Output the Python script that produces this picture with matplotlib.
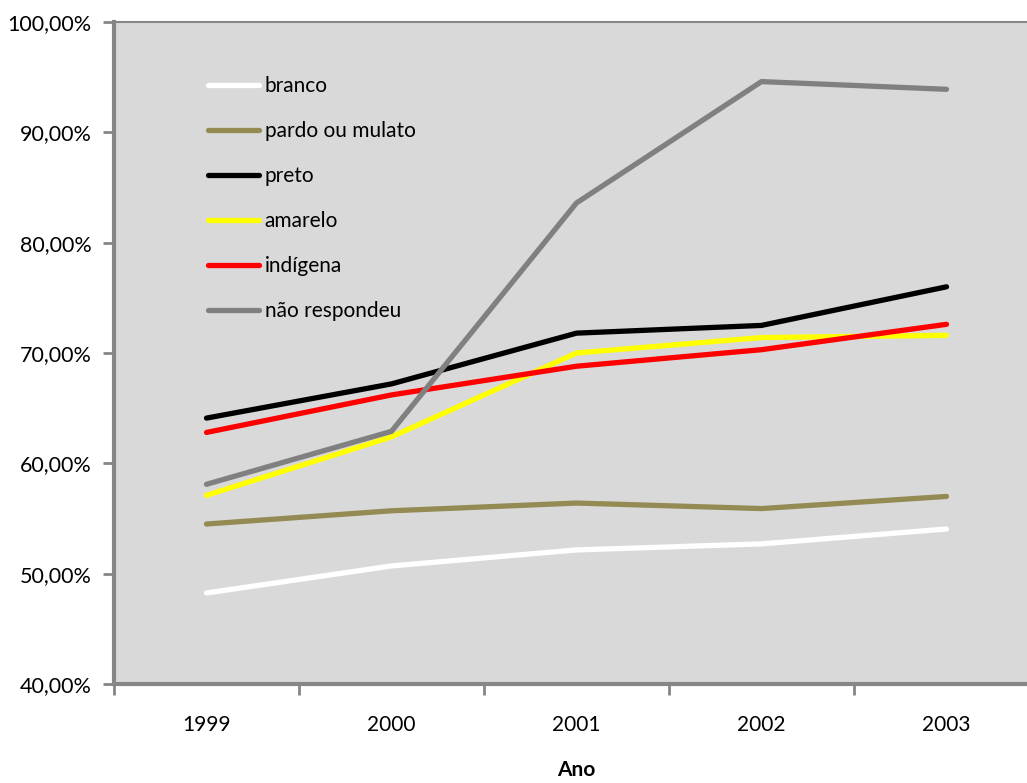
import matplotlib
matplotlib.use("Agg")
import matplotlib.pyplot as plt
from matplotlib.ticker import FixedLocator, FuncFormatter

years = ["1999", "2000", "2001", "2002", "2003"]
branco = [48.25, 50.7, 52.15, 52.7, 54.05]
pardo_ou_mulato = [54.5, 55.7, 56.4, 55.9, 57.0]
preto = [64.1, 67.2, 71.8, 72.5, 76.0]
amarelo = [57.1, 62.4, 70.0, 71.4, 71.6]
indigena = [62.8, 66.2, 68.8, 70.3, 72.6]
nao_respondeu = [58.1, 62.9, 83.6, 94.6, 93.9]

series = [
    ("branco", branco, "#FFFFFF"),
    ("pardo ou mulato", pardo_ou_mulato, "#948A54"),
    ("preto", preto, "#000000"),
    ("amarelo", amarelo, "#FFFF00"),
    ("indígena", indigena, "#FF0000"),
    ("não respondeu", nao_respondeu, "#808080"),
]

plt.rcParams["font.family"] = ["Lato", "DejaVu Sans"]
axis_gray = "#868686"
fs = 15

fig = plt.figure(figsize=(10.27, 7.83), dpi=100)
W, H = 1027, 783
left, right, top, bottom = 114, 1039, 22, 684
ax = fig.add_axes([left / W, 1 - bottom / H, (right - left) / W, (bottom - top) / H])
ax.set_facecolor("#D9D9D9")

x = list(range(len(years)))
for name, vals, color in series:
    ax.plot(x, vals, color=color, lw=3.8, solid_capstyle="round",
            solid_joinstyle="round", label=name)

ax.set_xlim(-0.5, len(years) - 0.5)
ax.set_ylim(40, 100)

ax.set_yticks(range(40, 101, 10))
ax.yaxis.set_major_formatter(FuncFormatter(lambda v, p: f"{v:.2f}%".replace(".", ",")))
ax.tick_params(axis="y", direction="out", length=8, width=2, color=axis_gray,
               labelsize=15.5, pad=8)

ax.set_xticks(x)
ax.set_xticklabels(years)
ax.xaxis.set_minor_locator(FixedLocator([i - 0.5 for i in range(len(years) + 1)]))
ax.tick_params(axis="x", which="major", length=0, labelsize=fs, pad=22)
ax.tick_params(axis="x", which="minor", direction="out", length=8, width=2, color=axis_gray)

for s in ("left", "bottom"):
    ax.spines[s].set_color(axis_gray)
    ax.spines[s].set_linewidth(3)
ax.spines["top"].set_color(axis_gray)
ax.spines["top"].set_linewidth(1.5)
ax.spines["right"].set_visible(False)

ax.set_xlabel("Ano", fontsize=fs, fontweight="bold", labelpad=18)

leg = ax.legend(loc="upper left", bbox_to_anchor=(0.093, 0.931), frameon=False,
                fontsize=fs, handlelength=2.45, handletextpad=0.25,
                labelspacing=1.2, borderaxespad=0)

fig.savefig("out.png", dpi=100)
